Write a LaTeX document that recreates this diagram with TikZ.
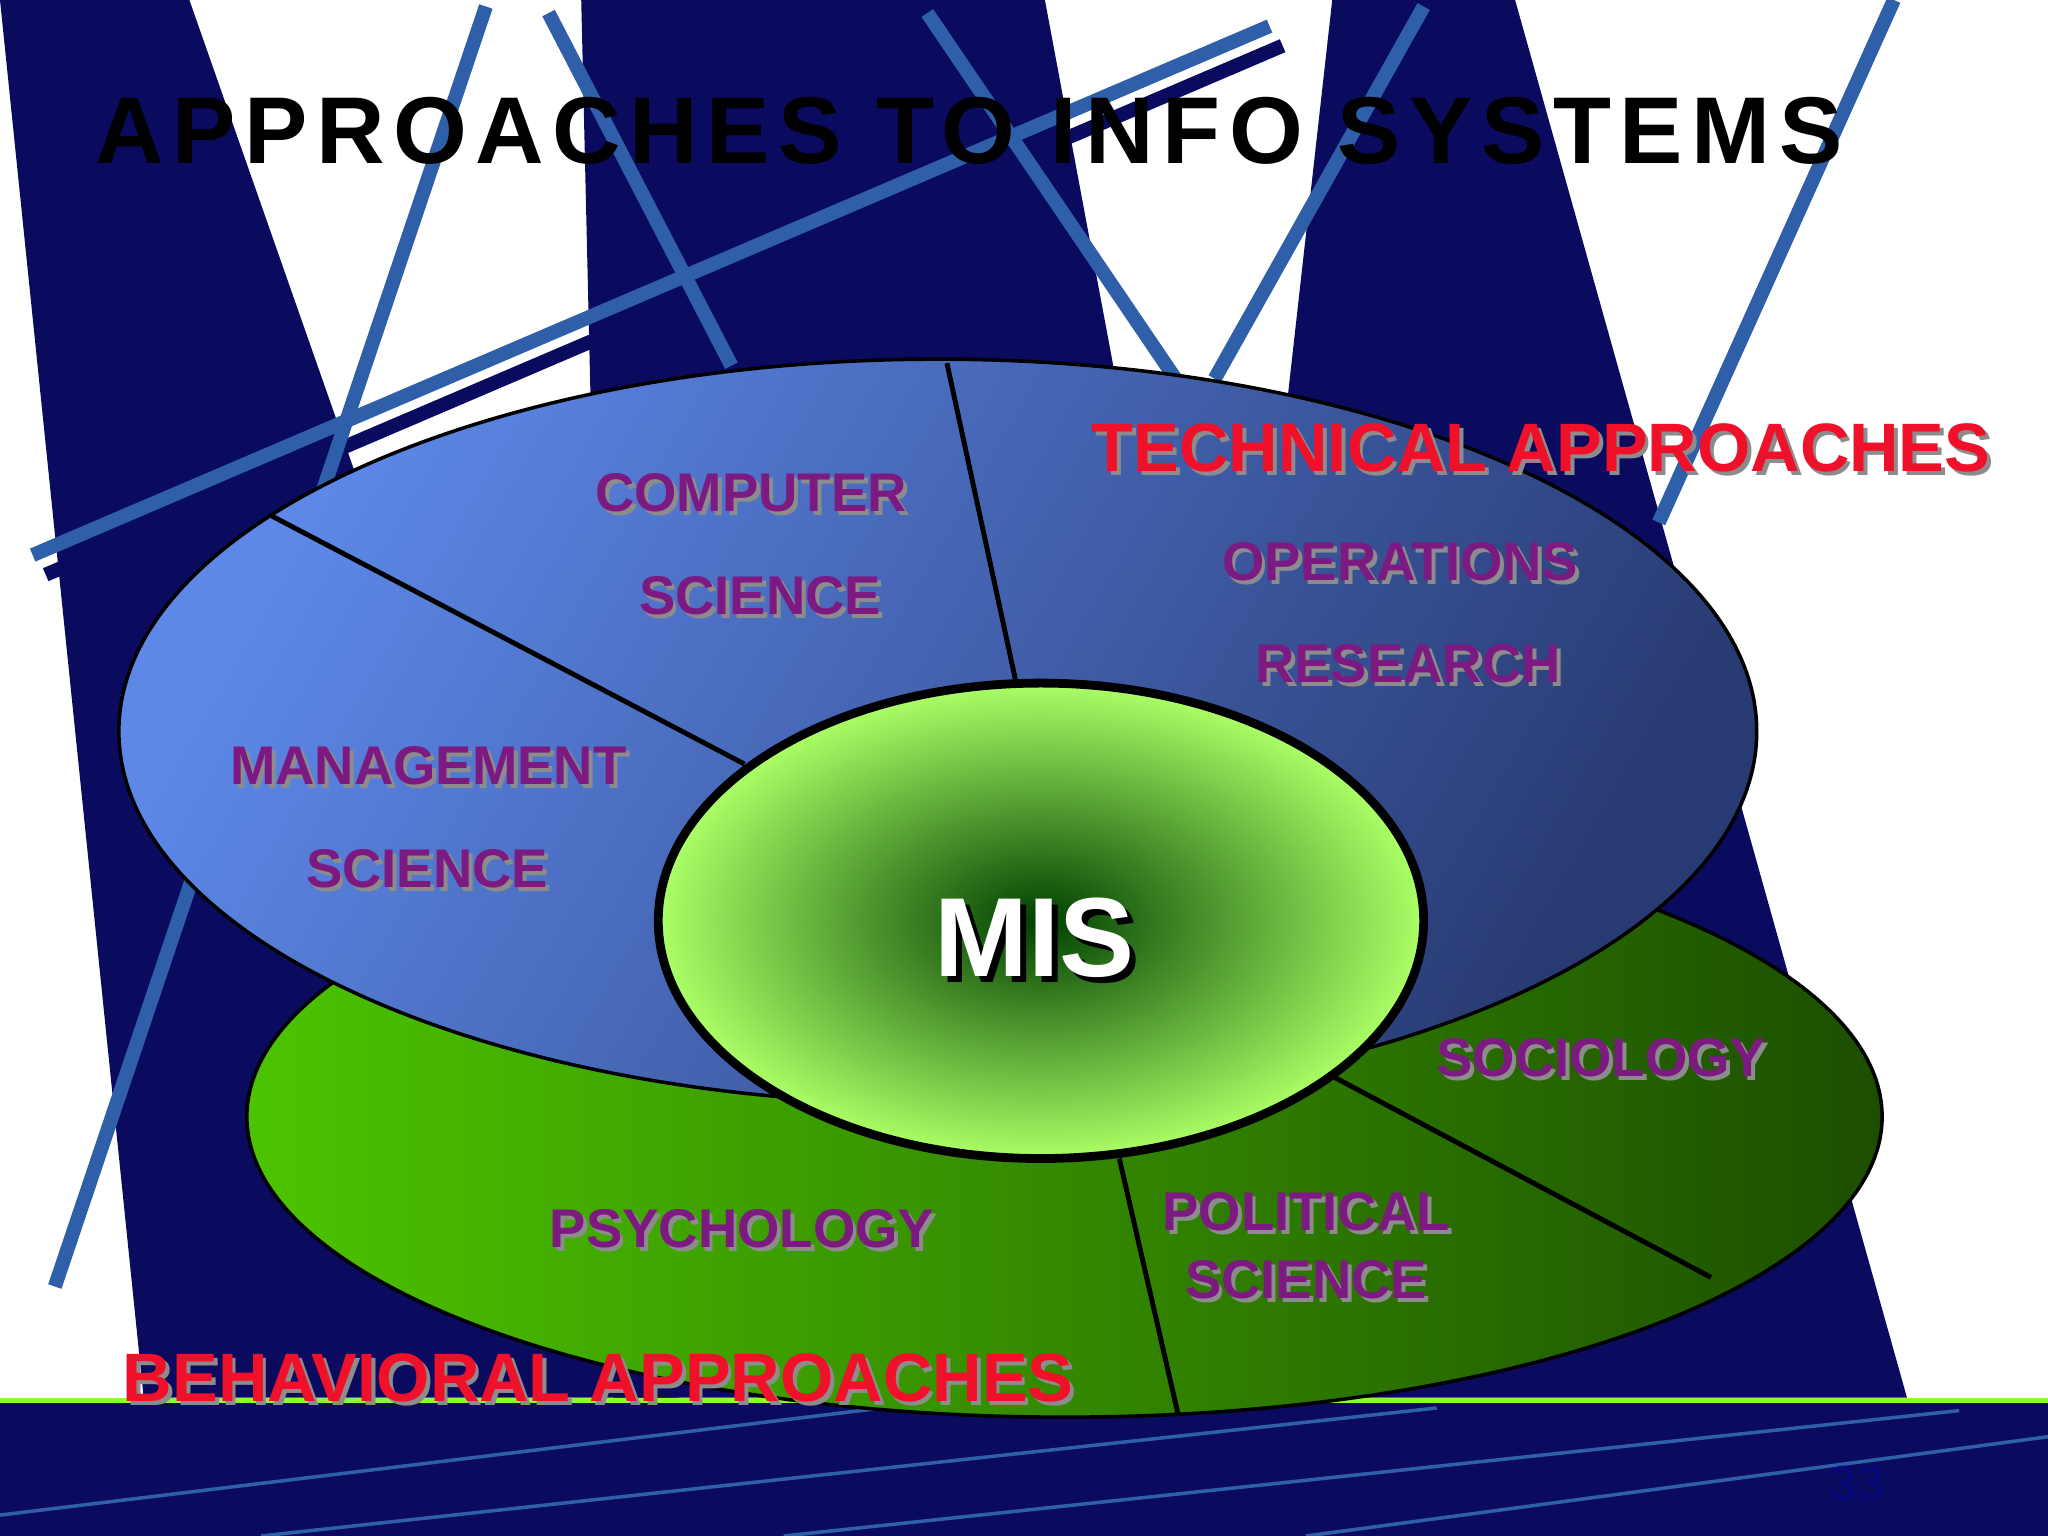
\documentclass[tikz,border=0pt]{standalone}
\usepackage{fontspec}
\setmainfont{Liberation Sans}
\newfontfamily\titlefont[LetterSpace=9]{Liberation Sans}
\definecolor{navy}{HTML}{0A0A5E}
\definecolor{lblue}{HTML}{2E5FA8}
\definecolor{purp}{HTML}{7C1A82}
\definecolor{redt}{HTML}{F0102A}
\definecolor{blueA}{HTML}{5D88E8}
\definecolor{blueB}{HTML}{283A72}
\definecolor{greenA}{HTML}{4CC400}
\definecolor{greenB}{HTML}{1C4E00}
\tikzset{
 x=0.013061cm,y=-0.013061cm,
 lab/.style={font=\fontsize{15.5}{16}\selectfont\bfseries,text=purp,inner sep=0},
 labsh/.style={font=\fontsize{15.5}{16}\selectfont\bfseries,text=black!45,inner sep=0},
 red/.style={font=\fontsize{19.5}{20}\selectfont\bfseries,text=redt,inner sep=0},
 redsh/.style={font=\fontsize{19.5}{20}\selectfont\bfseries,text=black!45,inner sep=0},
 bl/.style={lblue,line width=4pt},
 div/.style={black,line width=1.4pt}
}
\newcommand{\lbl}[4]{\node[#1sh] (#2s) at ([xshift=1.1pt,yshift=-1.1pt]#3) {#4};\node[#1] (#2) at (#3) {#4};}
\begin{document}
\begin{tikzpicture}
\useasboundingbox (0,0) rectangle (1568,1176);
\fill[white] (0,0) rectangle (1568,1176);
% navy stripes
\fill[navy] (0,0) -- (145,0) -- (520,1070) -- (110,1070) -- cycle;
\fill[navy] (445,0) -- (800,0) -- (1000,1070) -- (470,1070) -- cycle;
\fill[navy] (1020,0) -- (1160,0) -- (1460,1070) -- (900,1070) -- cycle;
% light blue lines
\draw[bl] (25,425) -- (972,20);
\draw[bl,navy] (35,440) -- (982,35);
\draw[bl] (372,5) -- (42,985);
\draw[bl] (420,10) -- (560,280);
\draw[bl] (710,10) -- (900,290);
\draw[bl] (1090,5) -- (930,290);
\draw[bl] (1450,0) -- (1270,400);
% title
\node[font=\fontsize{27}{28}\selectfont\bfseries\titlefont,inner sep=0] (title) at (742,100) {APPROACHES TO INFO SYSTEMS};
% bottom band
\fill[navy] (0,1072) rectangle (1568,1176);
\draw[green!60!yellow!80!white,line width=1.5pt] (0,1072) -- (1568,1072);
\draw[lblue,line width=1pt] (0,1160) -- (700,1075) (200,1176) -- (1100,1078) (600,1176) -- (1500,1080) (1000,1176) -- (1568,1100);
% green ellipse
\draw[black,line width=1pt,left color=greenA,right color=greenB] (815,855) ellipse [x radius=626,y radius=230];
\draw[div] (857,887) -- (902,1083);
\draw[div] (1022,825) -- (1310,978);
% blue ellipse
\draw[black,line width=1pt,shading=axis,left color=blueA,right color=blueB,shading angle=60] (718,560) ellipse [x radius=627,y radius=285];
\draw[div] (725,278) -- (778,523);
\draw[div] (208,395) -- (570,585);
% MIS ellipse
\draw[black,line width=2.5pt,inner color=green!25!black,outer color=green!55!yellow!60!white] (797,705) ellipse [x radius=293,y radius=182];
\node[font=\fontsize{32}{33}\selectfont\bfseries,text=black,inner sep=0] (miss) at ([xshift=1.8pt,yshift=-1.8pt]792,718) {MIS};
\node[font=\fontsize{32}{33}\selectfont\bfseries,text=white,inner sep=0] (mis) at (792,718) {MIS};
% labels
\lbl{lab}{cs1}{575,377}{COMPUTER}
\lbl{lab}{cs2}{582,456}{SCIENCE}
\lbl{lab}{or1}{1072,430}{OPERATIONS}
\lbl{lab}{or2}{1078,508}{RESEARCH}
\lbl{lab}{ms1}{328,586}{MANAGEMENT}
\lbl{lab}{ms2}{327,665}{SCIENCE}
\lbl{lab}{soc}{1226,810}{SOCIOLOGY}
\lbl{lab}{psy}{568,941}{PSYCHOLOGY}
\lbl{lab}{ps1}{1000,928}{POLITICAL}
\lbl{lab}{ps2}{1000,980}{SCIENCE}
\lbl{red}{tech}{1180,343}{TECHNICAL APPROACHES}
\lbl{red}{beh}{458,1055}{BEHAVIORAL APPROACHES}
\node[font=\fontsize{14}{14}\selectfont,text=navy!80!blue,inner sep=0] (pg) at (1422,1136) {33};
\end{tikzpicture}
\end{document}
